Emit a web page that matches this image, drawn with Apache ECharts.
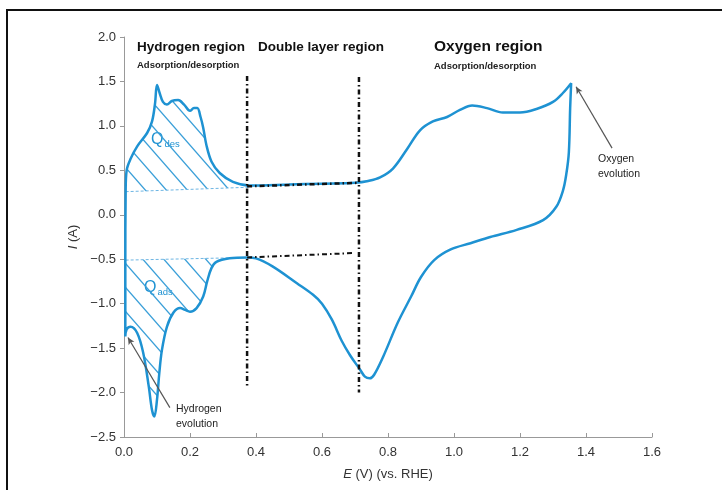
<!DOCTYPE html>
<html><head><meta charset="utf-8">
<script src="https://cdn.jsdelivr.net/npm/echarts@6/dist/echarts.min.js"></script>
<style>html,body{margin:0;padding:0;background:#fff}#c{width:722px;height:490px}</style>
</head><body><div id="c"></div>
<script>
// ---- data ----
var xTicks = [0.0,0.2,0.4,0.6,0.8,1.0,1.2,1.4,1.6];
var yTicks = [-2.5,-2.0,-1.5,-1.0,-0.5,0.0,0.5,1.0,1.5,2.0];
// anodic sweep (E, I)
var anodic = [[0.004,-1.37],[0.004,-0.6],[0.005,0.26],[0.008,0.5],[0.02,0.63],[0.04,0.77],[0.07,0.92],[0.085,1.05],[0.094,1.25],[0.1,1.46],[0.108,1.37],[0.118,1.27],[0.13,1.24],[0.145,1.28],[0.164,1.29],[0.182,1.24],[0.2,1.17],[0.212,1.2],[0.222,1.2],[0.232,1.1],[0.24,0.98],[0.25,0.78],[0.265,0.6],[0.29,0.47],[0.33,0.37],[0.38,0.33],[0.5,0.34],[0.6,0.35],[0.7,0.36],[0.74,0.38],[0.776,0.42],[0.815,0.52],[0.858,0.74],[0.897,0.95],[0.936,1.05],[0.979,1.1],[1.018,1.18],[1.055,1.23],[1.1,1.2],[1.148,1.15],[1.2,1.15],[1.25,1.19],[1.3,1.27],[1.33,1.37],[1.355,1.48]];
// cathodic sweep (E, I)
var cathodic = [[1.352,1.2],[1.348,0.7],[1.34,0.45],[1.33,0.27],[1.31,0.09],[1.27,-0.06],[1.19,-0.17],[1.11,-0.25],[1.05,-0.32],[0.99,-0.39],[0.94,-0.51],[0.9,-0.7],[0.87,-0.92],[0.83,-1.21],[0.785,-1.6],[0.758,-1.8],[0.745,-1.84],[0.73,-1.82],[0.715,-1.74],[0.685,-1.58],[0.66,-1.42],[0.63,-1.18],[0.6,-1.0],[0.573,-0.9],[0.524,-0.77],[0.45,-0.58],[0.4,-0.49],[0.373,-0.48],[0.32,-0.49],[0.28,-0.53],[0.265,-0.6],[0.252,-0.75],[0.24,-0.92],[0.22,-1.05],[0.2,-1.09],[0.185,-1.07],[0.17,-1.05],[0.15,-1.1],[0.13,-1.26],[0.115,-1.52],[0.107,-1.78],[0.1,-2.08],[0.092,-2.27],[0.085,-2.2],[0.075,-1.93],[0.058,-1.55],[0.04,-1.33],[0.02,-1.26],[0.008,-1.29],[0.004,-1.37]];
// charge baselines
var desBase = [[0.005,0.26],[0.38,0.31]];
var adsBase = [[0.005,-0.51],[0.38,-0.48]];
// region separators (dash-dot)
var sepLeft = [[0.373,1.56],[0.373,-1.95]];
var sepRight = [[0.712,1.55],[0.712,-2.0]];
var dlUpper = [[0.373,0.32],[0.712,0.36]];
var dlLower = [[0.373,-0.48],[0.7,-0.43]];
// arrows [tail, tip]
var oxArrow = [[1.479,0.75],[1.37,1.44]];
var hyArrow = [[0.139,-2.17],[0.012,-1.38]];

// hatched areas built from the curves
var desPoly = anodic.filter(function(p){return p[0]<=0.38 && p[1]>=0.26;}).concat([[0.38,0.31]]);
var adsPoly = [[0.005,-0.51],[0.004,-1.3]].concat(cathodic.filter(function(p){return p[0]<=0.38 && p[1]<=-0.48 && !(p[0]<0.01);}).slice().reverse()).concat([[0.38,-0.48]]);

function hatch(){
  var w=21,h=24,c=document.createElement('canvas');c.width=w;c.height=h;
  var g=c.getContext('2d');g.strokeStyle='#3a9fd8';g.lineWidth=1.3;
  for(var k=-1;k<=1;k++){g.beginPath();g.moveTo(k*w-w,-h);g.lineTo(k*w+2*w,2*h);g.stroke();}
  return c;
}
var pat = hatch();
var polys=[desPoly,adsPoly];

var blue='#1e92d2';
var font='Liberation Sans';
var dashDot=[5,3,1.5,3];
function fmt(v){return (v<0?'\u2212':'')+Math.abs(v).toFixed(1);}

var chart=echarts.init(document.getElementById('c'),null,{renderer:'canvas'});
chart.setOption({
  animation:false,
  grid:{left:124,right:70,top:37,bottom:53},
  xAxis:{type:'value',min:0,max:1.6,interval:0.2,
    name:'{i|E} (V) (vs. RHE)',nameLocation:'middle',nameGap:31,
    nameTextStyle:{fontFamily:font,fontSize:13,color:'#333',rich:{i:{fontStyle:'italic',fontFamily:font,fontSize:13,color:'#333'}}},
    axisLine:{onZero:false,lineStyle:{color:'#999'}},axisTick:{inside:true,length:4,lineStyle:{color:'#999'}},
    axisLabel:{fontFamily:font,fontSize:13,color:'#333',margin:9,formatter:function(v){return v.toFixed(1);}},
    splitLine:{show:false}},
  yAxis:{type:'value',min:-2.5,max:2.0,interval:0.5,
    name:'{i|I} (A)',nameLocation:'middle',nameGap:40,
    nameTextStyle:{fontFamily:font,fontSize:13,color:'#333',rich:{i:{fontStyle:'italic',fontFamily:font,fontSize:13,color:'#333'}}},
    axisLine:{show:true,onZero:false,lineStyle:{color:'#999'}},axisTick:{show:true,length:4,lineStyle:{color:'#999'}},
    axisLabel:{fontFamily:font,fontSize:13,color:'#333',margin:8,formatter:fmt},
    splitLine:{show:false}},
  graphic:[
    {type:'rect',shape:{x:7,y:10,width:800,height:600},style:{fill:'none',stroke:'#111',lineWidth:2},silent:true},
    {type:'text',left:137,top:40,style:{text:'Hydrogen region',font:'bold 13.5px "Liberation Sans"',fill:'#111'}},
    {type:'text',left:137,top:60,style:{text:'Adsorption/desorption',font:'bold 9.5px "Liberation Sans"',fill:'#222'}},
    {type:'text',left:258,top:40,style:{text:'Double layer region',font:'bold 13.5px "Liberation Sans"',fill:'#111'}},
    {type:'text',left:434,top:39,style:{text:'Oxygen region',font:'bold 15.5px "Liberation Sans"',fill:'#111'}},
    {type:'text',left:434,top:61,style:{text:'Adsorption/desorption',font:'bold 9.5px "Liberation Sans"',fill:'#222'}},
    {type:'text',left:598,top:152,style:{text:'Oxygen\nevolution',font:'10.5px "Liberation Sans"',fill:'#222',lineHeight:15}},
    {type:'text',left:176,top:402,style:{text:'Hydrogen\nevolution',font:'10.5px "Liberation Sans"',fill:'#222',lineHeight:15}},
    {type:'text',left:151,top:132,style:{text:'{q|Q}{s|des}',rich:{q:{font:'16px "Liberation Sans"',fill:blue},s:{font:'9.5px "Liberation Sans"',fill:blue,padding:[8,0,0,1]}}}},
    {type:'text',left:144,top:280,style:{text:'{q|Q}{s|ads}',rich:{q:{font:'16px "Liberation Sans"',fill:blue},s:{font:'9.5px "Liberation Sans"',fill:blue,padding:[8,0,0,1]}}}}
  ],
  series:[
    {type:'custom',coordinateSystem:'cartesian2d',data:[0,1],silent:true,z:1,
     renderItem:function(params,api){
       var pts=polys[params.dataIndex].map(function(p){return api.coord(p);});
       return {type:'polygon',shape:{points:pts},style:{fill:{type:'pattern',image:pat,repeat:'repeat'},stroke:null}};
     }},
    {type:'line',data:desBase,symbol:'none',z:2,lineStyle:{color:'#6db5e3',width:1,type:[3,2]}},
    {type:'line',data:adsBase,symbol:'none',z:2,lineStyle:{color:'#6db5e3',width:1,type:[3,2]}},
    {type:'line',data:anodic.concat(cathodic),symbol:'none',smooth:0.35,z:3,lineStyle:{color:blue,width:2.5}},
    {type:'line',data:sepLeft,symbol:'none',z:4,lineStyle:{color:'#111',width:2.5,type:dashDot}},
    {type:'line',data:sepRight,symbol:'none',z:4,lineStyle:{color:'#111',width:2.5,type:dashDot}},
    {type:'line',data:dlUpper,symbol:'none',z:4,lineStyle:{color:'#111',width:2.5,type:dashDot}},
    {type:'line',data:dlLower,symbol:'none',z:4,lineStyle:{color:'#111',width:2,type:dashDot}},
    {type:'line',data:[],symbol:'none',z:5,
     markLine:{silent:true,symbol:['none','arrow'],symbolSize:[5,7],label:{show:false},
       lineStyle:{color:'#555',width:1.2,type:'solid'},
       data:[[{coord:oxArrow[0]},{coord:oxArrow[1]}],[{coord:hyArrow[0]},{coord:hyArrow[1]}]]}}
  ]
});
</script></body></html>
